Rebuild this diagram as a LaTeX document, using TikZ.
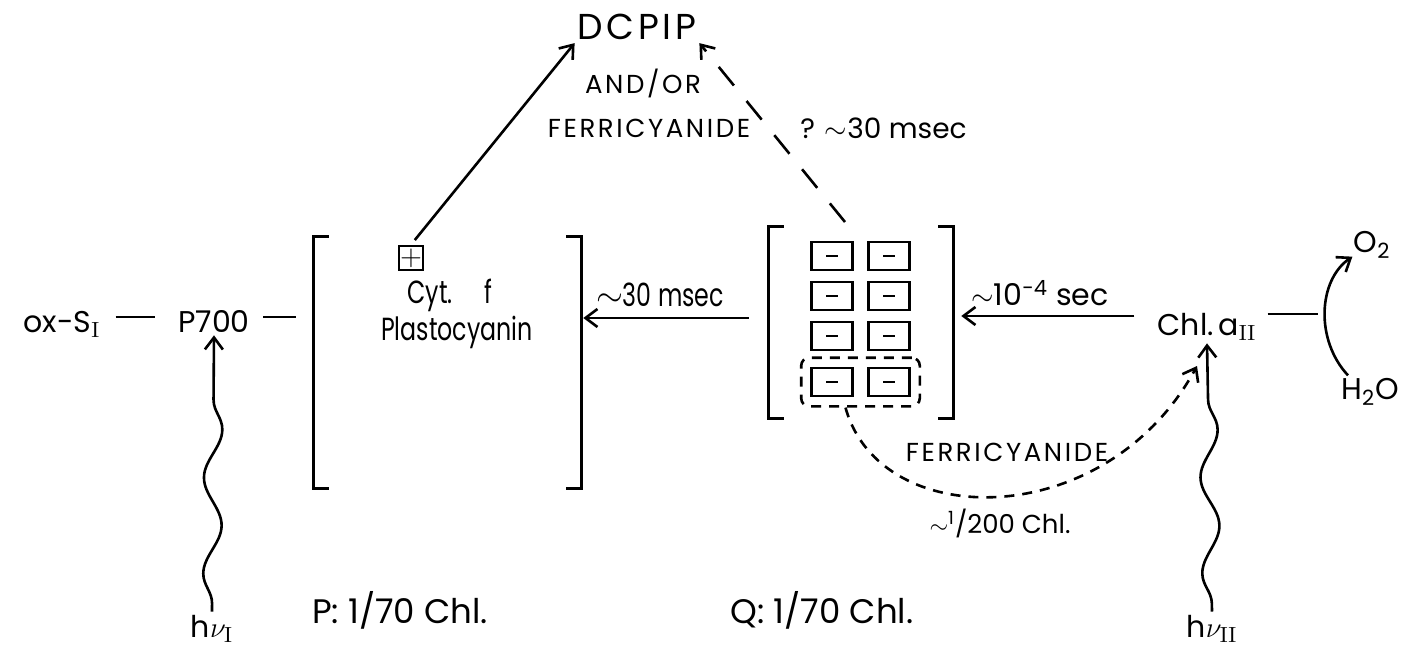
\documentclass[tikz,border=0pt]{standalone}
\usepackage[no-math]{fontspec}
\setmainfont{Poppins}
\newfontfamily\spacedlettering{Poppins}[LetterSpace=10]
\newfontfamily\narrowlettering{Poppins}[FakeStretch=0.74]
\usepackage{tikz}
\usetikzlibrary{arrows.meta, decorations.pathmorphing, positioning, calc, fit}

\begin{document}
\begin{tikzpicture}[
		x=0.5pt, y=0.5pt,
		line width=1.3pt,
		every node/.style={inner sep=1pt},
		lettering/.style={font=\fontsize{15}{18}\selectfont},
		narrow lettering/.style={font=\narrowlettering\fontsize{16}{19}\selectfont},
		small lettering/.style={font=\spacedlettering\fontsize{13}{15}\selectfont},
		barb/.style={-{Straight Barb[length=6pt, width=9pt, line width=1.3pt]}},
		wavy/.style={barb, decorate, decoration={snake, amplitude=4.5pt, segment length=48pt, pre length=4pt, post length=12pt}},
		qbox/.style={draw, minimum width=20.5pt, minimum height=14pt, inner sep=0pt},
		fine dash/.style={dash pattern=on 5pt off 4pt},
		long dash/.style={dash pattern=on 12pt off 10pt}
	]
	\useasboundingbox (0,0) rectangle (1408,-650);

	% photosystem I side
	\node[lettering, anchor=base] (oxs) at (62,-332) {ox-S$_{\mathrm{I}}$};
	\node[lettering, anchor=base] (p700) at (214,-332) {P700};
	\node[lettering, anchor=base] (hnu1) at (212,-637) {h$\nu_{\mathrm{I}}$};

	\node[fit={(315,-238) (580,-487)}, inner sep=0pt] (pbr) {};
	\node[draw, minimum size=12pt, inner sep=0pt, font=\fontsize{13.5}{13.5}\selectfont] (plus) at (411,-258) {$+$};
	\node[narrow lettering, anchor=base] (cyt) at (450,-303) {Cyt.\quad f};
	\node[narrow lettering, anchor=base] (plasto) at (457,-340) {Plastocyanin};

	% Q pool
	\node[fit={(770,-228) (952,-417)}, inner sep=0pt] (qbr) {};
	\foreach \row/\y in {1/256, 2/296, 3/336, 4/382} {
		\node[qbox] (qa\row) at (832,-\y) {\rule{6pt}{1.2pt}};
		\node[qbox] (qb\row) at (889,-\y) {\rule{6pt}{1.2pt}};
	}
	\node[draw, fine dash, rounded corners=4pt, inner sep=4.5pt, fit=(qa4) (qb4)] (qgrp) {};

	\foreach \b in {pbr, qbr} {
		\draw ($(\b.north west)+(15,0)$) -| (\b.south west) -- ++(15,0);
		\draw ($(\b.north east)+(-15,0)$) -| (\b.south east) -- ++(-15,0);
	}

	% photosystem II side
	\node[lettering, anchor=base] (chl) at (1207,-335) {Chl.\,a$_{\mathrm{II}}$};
	\node[lettering, anchor=base] (hnu2) at (1212,-637) {h$\nu_{\mathrm{II}}$};
	\node[lettering] (o2) at (1372,-245) {O\textsubscript{2}};
	\node[lettering] (h2o) at (1370,-392) {H\textsubscript{2}O};
	\coordinate (junc) at (1318,-314);

	% acceptors
	\node[small lettering, font=\spacedlettering\fontsize{18}{21}\selectfont] (dcpip) at (637,-27) {DCPIP};
	\node[small lettering] (andor) at (643,-83) {AND/OR};
	\node[small lettering] (ferri) at (649,-128) {FERRICYANIDE};
	\node[lettering, anchor=west, font=\fontsize{14}{17}\selectfont] (qmsec) at (797,-128) {? $\sim$30 msec};
	\coordinate (qtop) at (845,-222);

	% labels
	\node[narrow lettering] (t30) at (660,-295) {$\sim$30 msec};
	\node[lettering] (t104) at (1040,-293) {$\sim$10\textsuperscript{-4} sec};
	\node[small lettering] (ferri2) at (1007,-452) {FERRICYANIDE};
	\node[small lettering, font=\fontsize{13}{15}\selectfont] (t200) at (1000,-523) {$\sim$\textsuperscript{1}/200 Chl.};
	\node[lettering, font=\fontsize{17}{20}\selectfont] (plab) at (400,-610) {P: 1/70 Chl.};
	\node[lettering, font=\fontsize{17}{20}\selectfont] (qlab) at (822,-610) {Q: 1/70 Chl.};
	\coordinate (fcend) at (1197,-366);

	% connectors
	\draw[shorten <=6pt, shorten >=10pt] (oxs.east |- 0,-317) -- (p700.west |- 0,-317);
	\draw[shorten <=5pt, shorten >=9pt] (p700.east |- 0,-317) -- (pbr.west |- 0,-317);
	\draw[shorten <=4pt] (chl.east |- junc) -- (junc);

	\draw[barb, shorten <=10pt, shorten >=1pt] (qbr.west |- 0,-318) -- (pbr.east |- 0,-318);
	\draw[barb, shorten <=10pt, shorten >=4pt] (chl.west |- 0,-316) -- (qbr.east |- 0,-316);

	\draw[barb, shorten <=3pt] (plus.north) -- (dcpip.south west);
	\draw[barb, long dash] (qtop) -- (dcpip.south east);
	\draw[barb, fine dash] ($(qgrp.south)+(-15,0)$) .. controls (880,-533) and (1106,-533) .. (fcend);
	\draw[barb] ($(h2o.north west)+(10,0)$) .. controls (1315,-340) and (1318,-280) .. ($(o2.south west)+(2,5)$);

	\draw[wavy] (hnu1.north) -- (p700.south);
	\draw[wavy] (hnu2.north) -- (chl.south);
\end{tikzpicture}
\end{document}
